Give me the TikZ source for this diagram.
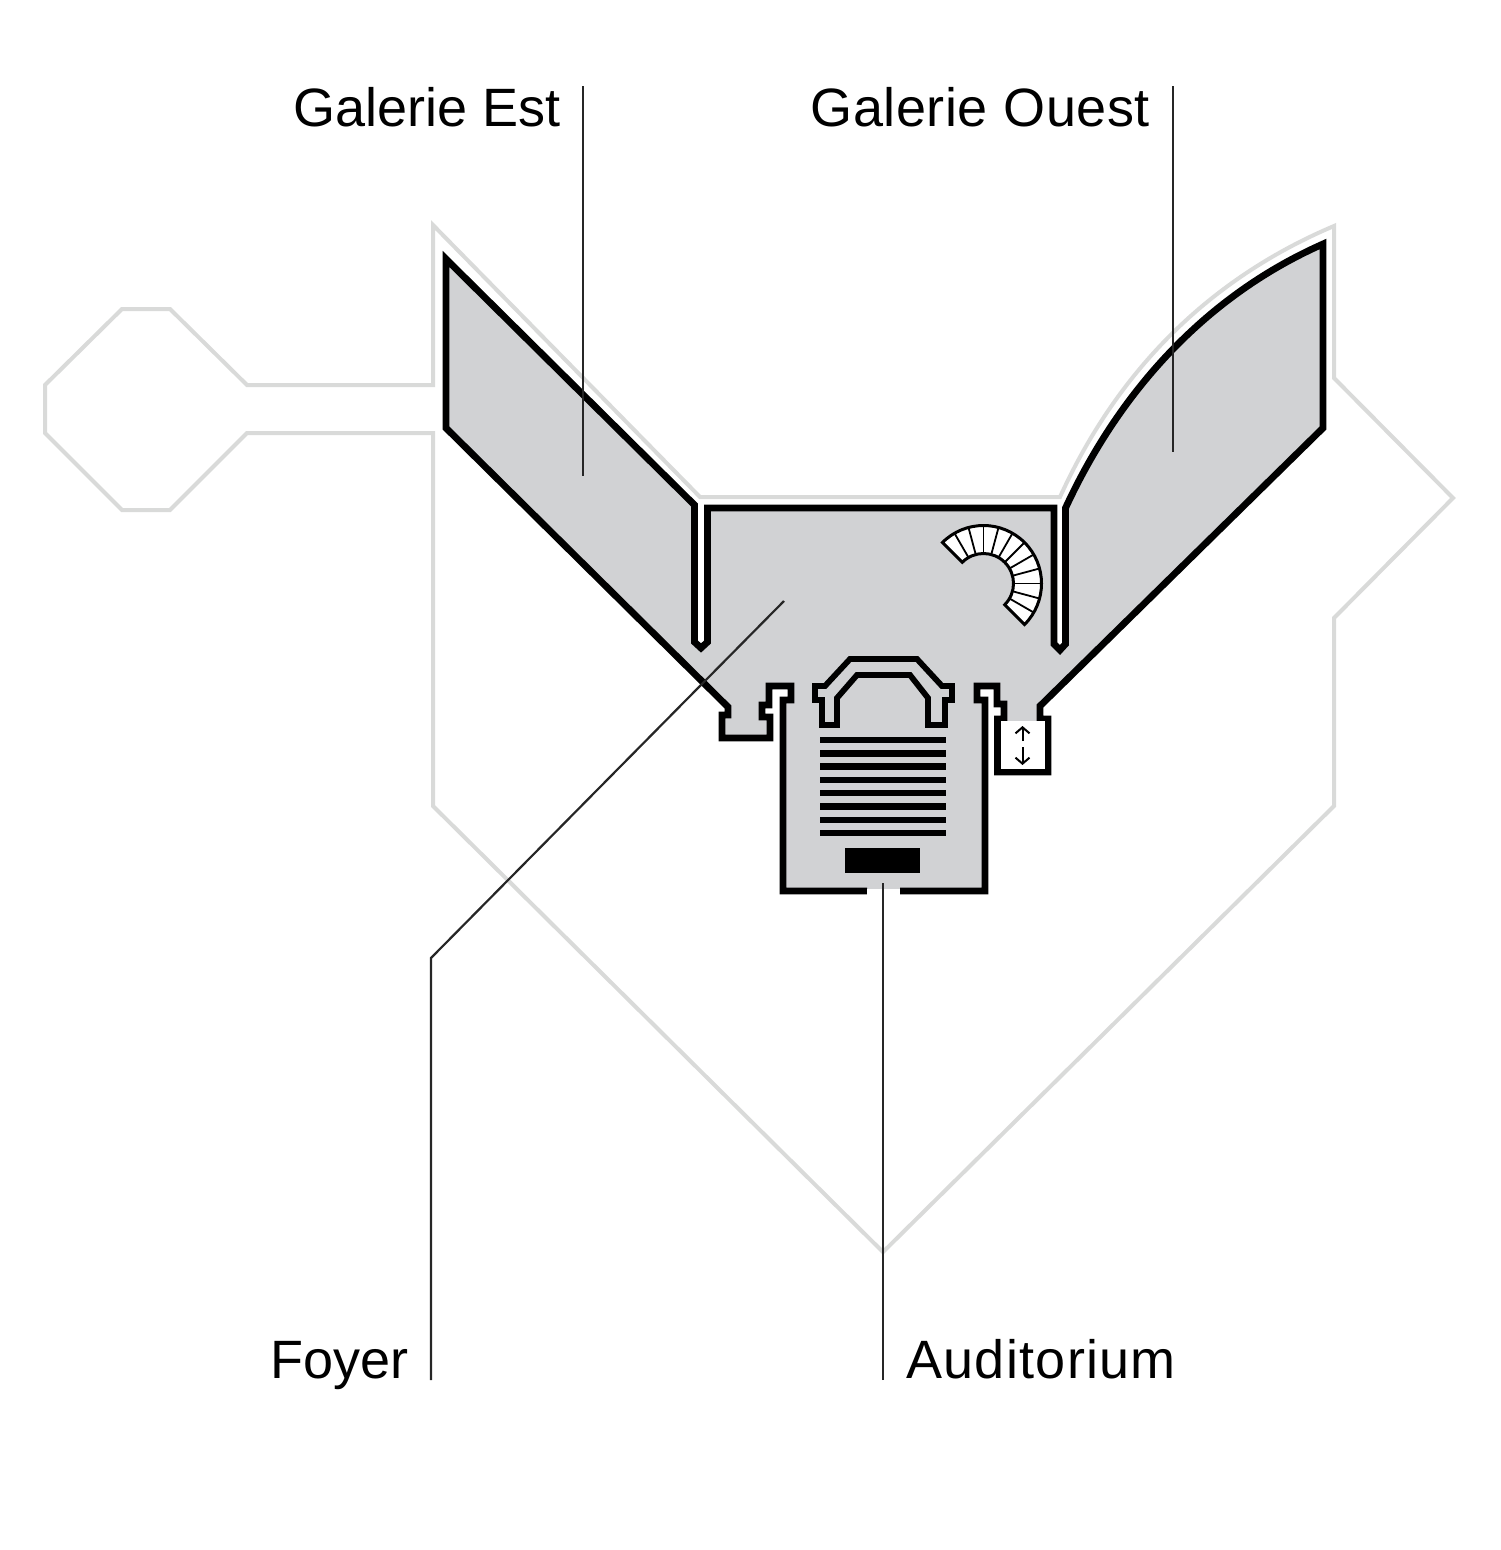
\documentclass[tikz,border=0pt]{standalone}
\usepackage{fontspec}
\setmainfont{Liberation Sans}
\usetikzlibrary{arrows.meta}
\usetikzlibrary{calc}
\definecolor{roomgrey}{HTML}{D1D2D4}
\definecolor{siteline}{HTML}{D9DAD9}
\tikzset{
  site/.style={draw=siteline, line width=4pt, miter limit=10},
  wall/.style={draw=black, fill=roomgrey, line width=6.8pt, miter limit=10},
  leader/.style={draw=black!85, line width=2.2pt},
  lbl/.style={inner sep=0pt, font=\fontsize{54}{60}\selectfont},
  tread/.style={draw=black, line width=1.8pt},
  liftarrow/.style={line width=2pt, -{Straight Barb[length=6pt,width=14pt]}},
  bar/.style={fill=black}
}
\begin{document}
\begin{tikzpicture}[x=1pt,y=-1pt]
        \useasboundingbox (0,0) rectangle (1500,1550);
        % site outline
        \path[site] (433,225) -- (433,385) -- (247,385) -- (170,309) -- (122,309) -- (45,385)
            -- (45,433) -- (122,510) -- (170,510) -- (247,433) -- (433,433) -- (433,806)
            -- (883,1252) -- (1334,806) -- (1334,618) -- (1453,498) -- (1334,378) -- (1334,226)
            .. controls (1204,281) and (1115,376) .. (1060,497) -- (700,497) -- cycle;
        % rooms
        \path[wall] (900,891) -- (985,891) -- (985,700) -- (977,700) -- (977,686) -- (997,686)
            -- (997,704) -- (1004,704) -- (1004,719) -- (997.5,719) -- (997.5,772) -- (1048,772)
            -- (1048,719) -- (1040,719) -- (1040,706) -- (1323,428) -- (1323,244)
            .. controls (1210,294) and (1122,386) .. (1065.5,508) -- (1065.5,644) -- (1060,650)
            -- (1054,644) -- (1054,508) -- (707.5,508) -- (707.5,642) -- (701,648) -- (694.5,642)
            -- (694.5,505) -- (446,259) -- (446,428) -- (728,707) -- (728,715) -- (722,715)
            -- (722,738) -- (770,738) -- (770,717) -- (762,717) -- (762,705) -- (769,705)
            -- (769,686) -- (791,686) -- (791,700) -- (783,700) -- (783,891) -- (867,891);
        \fill[white] (867,888.5) rectangle (900,895);
        % lift
        \fill[white] (1000.9,721) rectangle (1044.6,768.6);
        \draw[liftarrow] (1022.5,741) -- (1022.5,726);
        \draw[liftarrow] (1022.5,747) -- (1022.5,765);
        % stage
        \path[wall,line width=5.8pt] (815,686) -- (825,686) -- (850,659) -- (917,659) -- (942,686)
            -- (952,686) -- (952,700) -- (945,700) -- (945,725) -- (928,725) -- (928,698)
            -- (910,675) -- (857,675) -- (837,698) -- (837,725) -- (822,725) -- (822,700)
            -- (815,700) -- cycle;
        \foreach \row in {0,...,7}
            \fill[bar] (820,736.8+13.3*\row) rectangle (946,743.2+13.3*\row);
        \fill[bar] (845,848) rectangle (920,873);
        % stairs
        \path[draw=black,fill=white,line width=3pt] (-135:58) ++(983.5,583.5) arc[start angle=-135,end angle=45,radius=58]
            -- ($(983.5,583.5)+(45:30)$) arc[start angle=45,end angle=-135,radius=30] -- cycle;
        \foreach \ang in {-120,-105,...,30}
            \draw[tread] ($(983.5,583.5)+(\ang:30)$) -- ($(983.5,583.5)+(\ang:58)$);
        % labels
        \node[lbl,anchor=base east] (est) at (561,126) {Galerie Est};
        \node[lbl,anchor=base east] (ouest) at (1150,126) {\addfontfeature{LetterSpace=1}Galerie Ouest};
        \node[lbl,anchor=base east] (foyer) at (409,1378) {Foyer};
        \node[lbl,anchor=base west] (audi) at (906,1378) {\addfontfeature{LetterSpace=2.4}Auditorium};
        \coordinate (esttop) at (583,86);
        \coordinate (estend) at (583,476);
        \coordinate (ouesttop) at (1173,86);
        \coordinate (ouestend) at (1173,452);
        \coordinate (foyerlow) at (431,1380);
        \coordinate (foyerbend) at (431,958);
        \coordinate (foyerend) at (784,601);
        \coordinate (audilow) at (883,1380);
        \coordinate (audiend) at (883,883);
        \draw[leader] (esttop) -- (estend);
        \draw[leader] (ouesttop) -- (ouestend);
        \draw[leader] (foyerlow) -- (foyerbend) -- (foyerend);
        \draw[leader] (audilow) -- (audiend);
    \end{tikzpicture}
\end{document}
